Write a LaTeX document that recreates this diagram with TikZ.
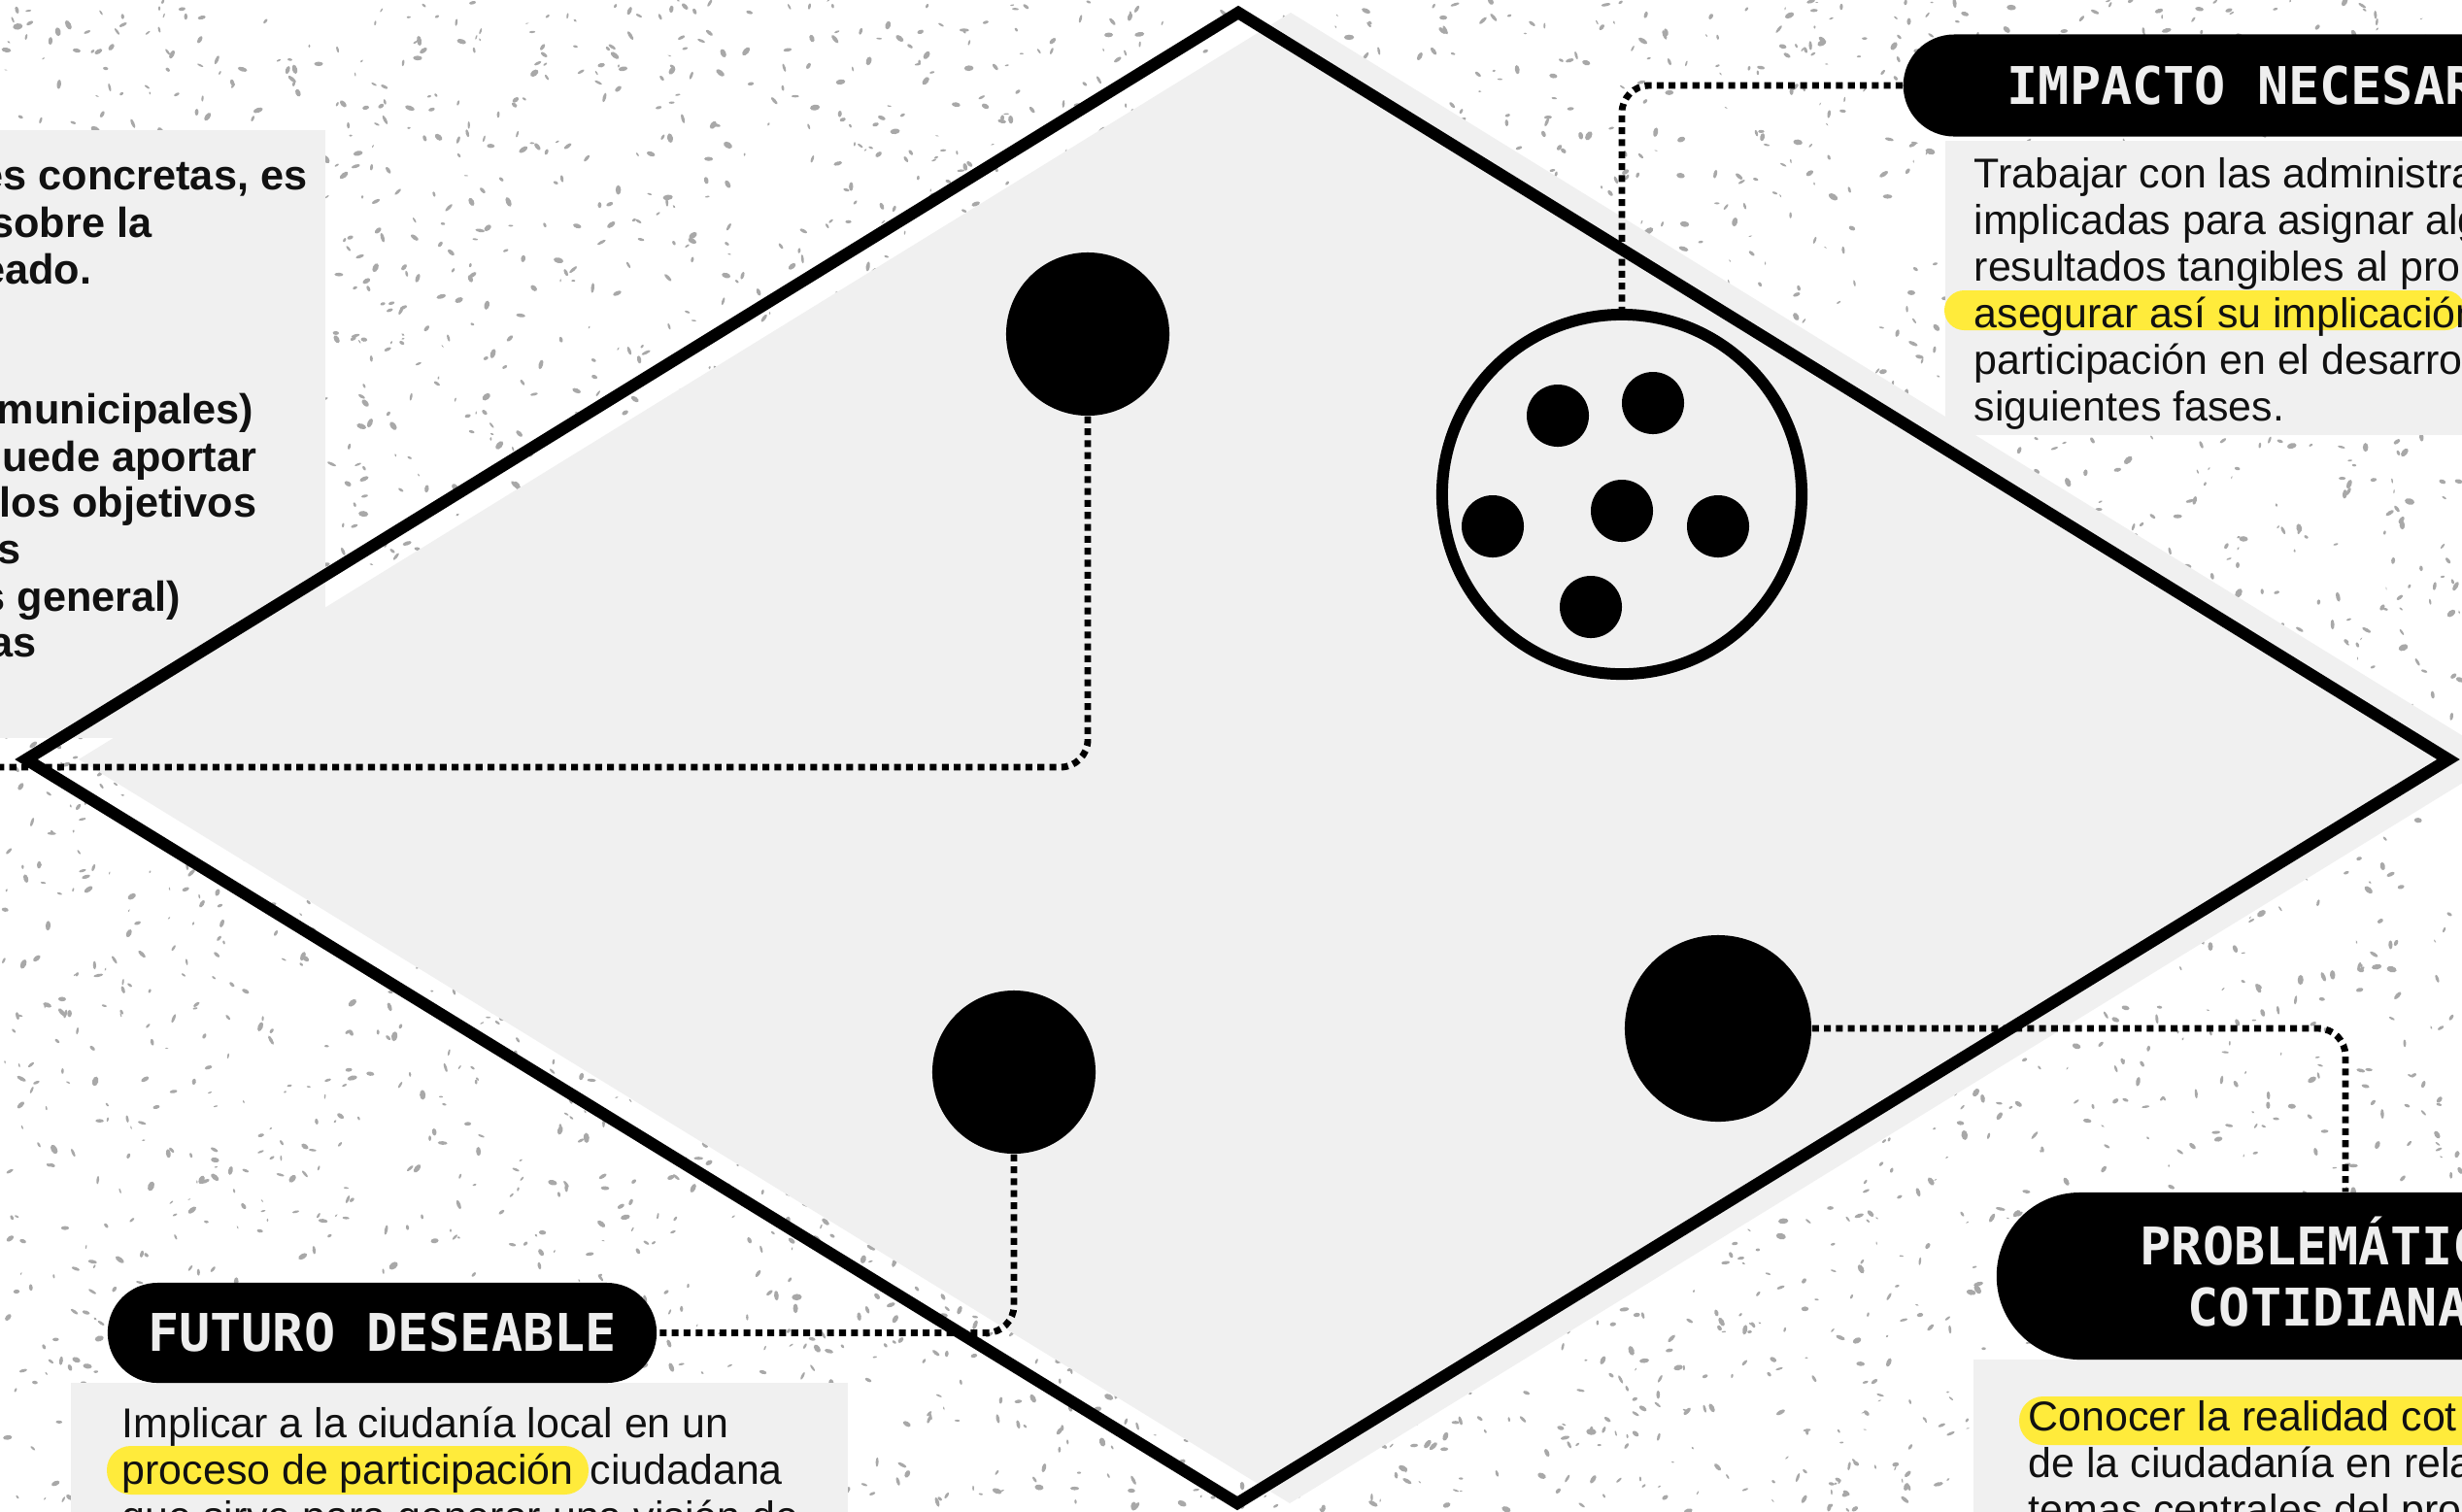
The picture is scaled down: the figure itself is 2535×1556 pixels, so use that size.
\documentclass[tikz,border=0pt]{standalone}
\usepackage{fontspec}
\setmainfont{Liberation Sans}
\newfontfamily\monofont{DejaVu Sans Mono}
\definecolor{paper}{RGB}{240,240,240}
\definecolor{hl}{RGB}{255,235,59}
\definecolor{speck}{RGB}{168,168,168}
\definecolor{ink}{RGB}{17,17,17}
\definecolor{chalk}{RGB}{238,238,238}
\tikzset{rim/.style={draw=black,line width=3.5pt,line join=miter},
 blob/.style={circle,fill=black,inner sep=0pt},
 hoop/.style={circle,draw=black,line width=3.4pt,inner sep=0pt},
 pill/.style={rectangle,fill=black,inner sep=0pt,text=chalk,font=\monofont\bfseries\fontsize{15.2}{18}\selectfont},
 ttl/.style={inner sep=0pt,text=chalk,font=\monofont\bfseries\fontsize{15.2}{18}\selectfont},
 para/.style={inner sep=0pt,text=ink,align=left,font=\fontsize{12.2}{13.66}\selectfont},
 bpara/.style={para,font=\bfseries\fontsize{12.3}{13.66}\selectfont},
 dotline/.style={line width=1.95pt,dash pattern=on 2pt off 1.5pt,rounded corners=8pt},
 hilite/.style={fill=hl}}
\begin{document}
\begin{tikzpicture}[x=0.01cm,y=-0.01cm]
\useasboundingbox (0,0) rectangle (2535,1556);
\clip (0,0) rectangle (2535,1556);
\fill[white] (0,0) rectangle (2535,1556);
\pgfmathsetseed{31}
\foreach \i in {1,...,5500}{\pgfmathsetmacro\sx{rnd*2535}\pgfmathsetmacro\sy{rnd*1556}\pgfmathsetmacro\sa{rnd*180}\pgfmathsetmacro\sr{1.6+rnd*3.6}\pgfmathsetmacro\sq{(.3+.35*rnd)*\sr}
 \fill[speck] (\sx,\sy) ellipse[x radius=\sr,y radius=\sq,rotate=\sa];}
\coordinate (W) at (27,782);\coordinate (N) at (1275,13);\coordinate (E) at (2521,782);\coordinate (S) at (1274,1548);
\coordinate (wend) at (0,790);
\fill[paper] (81,782)--(1329,13)--(2575,782)--(1328,1548)--cycle;
\fill[paper] (-10,134) rectangle (335,760);
\fill[paper] (2003,145) rectangle (2600,448);
\fill[paper] (73,1424) rectangle (873,1600);
\fill[paper] (2032,1400) rectangle (2600,1600);
\fill[hilite,rounded corners=5.8pt] (2002,299) rectangle (2538,340);
\fill[hilite,rounded corners=7pt] (110,1489) rectangle (606,1539);
\fill[hilite,rounded corners=7pt] (2079,1438) rectangle (2600,1488);
\foreach \txt/\xe/\yb [count=\k] in {{es concretas, es}/317/195,{sobre la}/157/244,eado./95/292,-municipales)/262/436,puede aportar/265/485,r los objetivos/265/532,as/22/580,s general)/187/629,as/38/676}
 \node[bpara,anchor=base east] (note\k) at (\xe,\yb) {\txt};
\node[para,anchor=north west] (impactoP) at (2032,157.85) {\rule{0pt}{10pt}Trabajar con las administra\\implicadas para asignar alg\\resultados tangibles al pro\\asegurar así su implicación\\participación en el desarro\\siguientes fases.};
\node[para,anchor=north west] (futuroP) at (125,1444.85) {\rule{0pt}{10pt}Implicar a la ciudanía local en un\\proceso de participación\kern1.5pt{} ciudadana\\que sirve para generar una visión de};
\node[para,anchor=north west] (problemaP) at (2088,1437.85) {\rule{0pt}{10pt}Conocer la realidad cot\\de la ciudadanía en rela\\temas centrales del pro};
\draw[rim] (W)--(N)--(E)--(S)--cycle;
\node[hoop,minimum size=3.7cm] (hoop) at (1670,509) {};
\foreach \px/\py [count=\k] in {1604/428,1702/415,1537/542,1670/526,1769/542,1638/625}
 \node[blob,minimum size=0.64cm] (seed\k) at (\px,\py) {};
\node[blob,minimum size=1.68cm] (dotA) at (1120,344) {};
\node[blob,minimum size=1.68cm] (dotB) at (1044,1104) {};
\node[blob,minimum size=1.92cm] (dotC) at (1769,1059) {};
\node[pill,rounded corners=14.9pt,minimum width=8cm,minimum height=1.05cm,anchor=west] (impacto) at (1959,88) {};
\node[ttl,anchor=base west] (impactoT) at (2066,107) {IMPACTO NECESAR};
\node[pill,rounded corners=14.6pt,minimum width=5.65cm,minimum height=1.03cm] (futuro) at (393.5,1372.5) {FUTURO DESEABLE};
\node[pill,rounded corners=24.4pt,minimum width=7.18cm,minimum height=1.72cm] (problema) at (2415,1314) {};
\node[ttl,anchor=base west] (problemaT1) at (2203,1302) {PROBLEMÁTIC};
\node[ttl,anchor=base west] (problemaT2) at (2252,1365) {COTIDIANA};
\draw[dotline] (impacto.west) -| (hoop.north);
\draw[dotline] (dotA.south) |- (wend);
\draw[dotline] (dotB.south) |- (futuro.east);
\draw[dotline] (dotC.east) -| (problema.north);
\end{tikzpicture}
\end{document}
